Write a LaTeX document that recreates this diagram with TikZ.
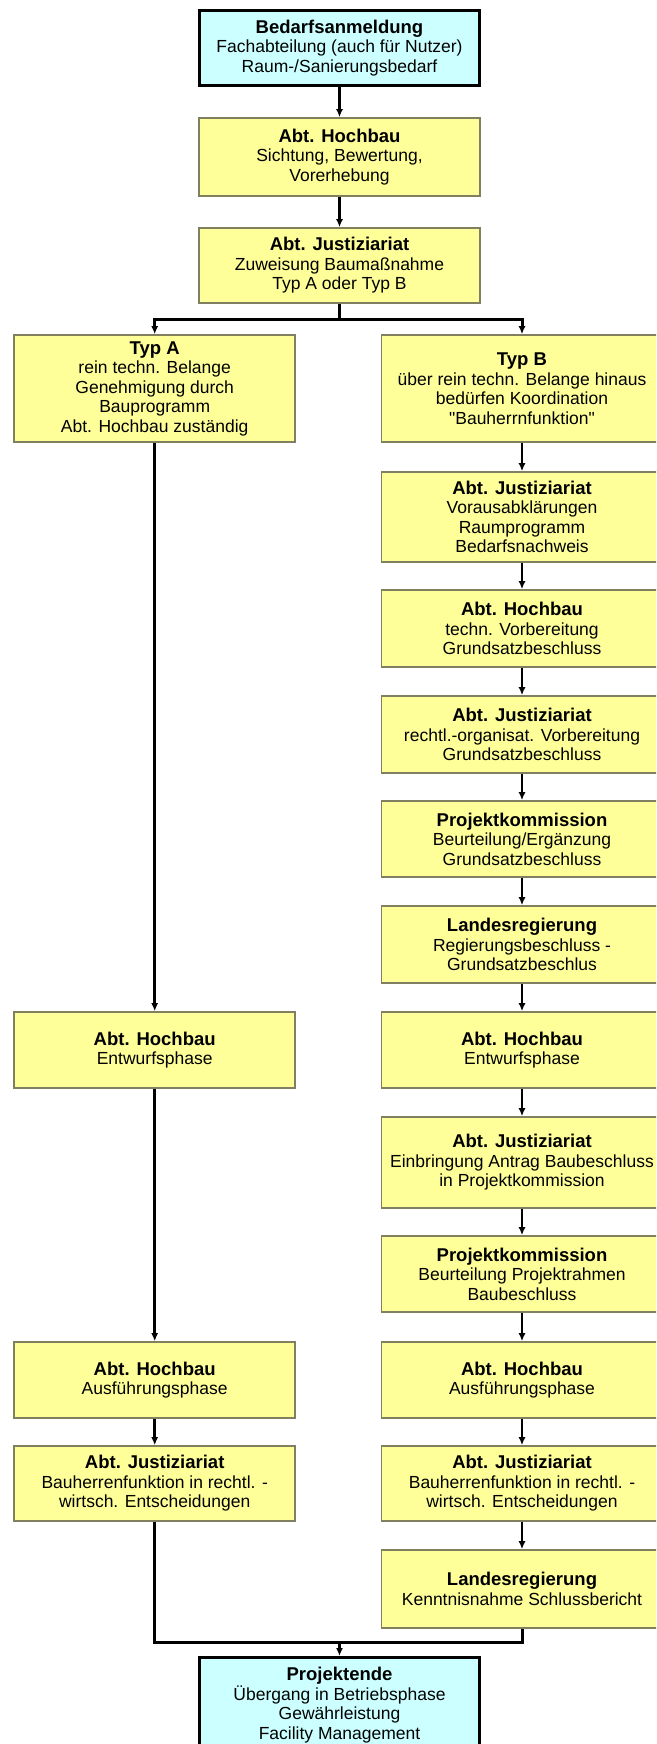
\documentclass[tikz,border=0pt]{standalone}
\usepackage{fontspec}
\setmainfont{Liberation Sans}
\usetikzlibrary{arrows.meta}
\definecolor{boxyellow}{RGB}{255,255,153}
\definecolor{boxcyan}{RGB}{204,255,255}
\definecolor{boxedge}{RGB}{128,128,96}
\newcommand{\hd}[1]{{\fontsize{18.5}{19.5}\selectfont\bfseries #1}}
\begin{document}
\begin{tikzpicture}[>={Latex[length=8pt,width=7pt]}, x=1pt, y=-1pt,
        ybox/.style={draw=boxedge, line width=1.6pt, fill=boxyellow, minimum width=281pt,
                align=center, inner sep=2pt, font=\fontsize{17.5}{19.5}\selectfont},
        cbox/.style={ybox, draw=black, line width=3pt, fill=boxcyan, minimum width=280pt},
        arr/.style={->, line width=2.2pt},
        fat/.style={line width=3pt}]
    \useasboundingbox (0,0) rectangle (656,1744);
    \clip (0,0) rectangle (656,1744);
    \node[cbox, minimum height=75] (bedarf) at (339.5,48) {\hd{Bedarfsanmeldung}\\Fachabteilung (auch für Nutzer)\\Raum-/Sanierungsbedarf};
    \node[ybox, minimum height=78] (hoch1) at (339.5,157) {\hd{Abt. Hochbau}\\Sichtung, Bewertung,\\Vorerhebung};
    \node[ybox, minimum height=75] (just1) at (339.5,265.5) {\hd{Abt. Justiziariat}\\Zuweisung Baumaßnahme\\Typ A oder Typ B};
    \node[ybox, minimum height=107] (typa) at (154.7,388.5) {\hd{Typ A}\\rein techn. Belange\\Genehmigung durch\\Bauprogramm\\Abt. Hochbau zuständig};
    \node[ybox, minimum height=107] (typb) at (522,388.5) {\hd{Typ B}\\über rein techn. Belange hinaus\\bedürfen Koordination\\\textquotedbl Bauherrnfunktion\textquotedbl};
    \node[ybox, minimum height=90] (justb1) at (522,517) {\hd{Abt. Justiziariat}\\Vorausabklärungen\\Raumprogramm\\Bedarfsnachweis};
    \node[ybox, minimum height=77] (hochb1) at (522,628.5) {\hd{Abt. Hochbau}\\techn. Vorbereitung\\Grundsatzbeschluss};
    \node[ybox, minimum height=77] (justb2) at (522,734.5) {\hd{Abt. Justiziariat}\\rechtl.-organisat. Vorbereitung\\Grundsatzbeschluss};
    \node[ybox, minimum height=76] (kommb1) at (522,839) {\hd{Projektkommission}\\Beurteilung/Ergänzung\\Grundsatzbeschluss};
    \node[ybox, minimum height=77] (landb1) at (522,944.5) {\hd{Landesregierung}\\Regierungsbeschluss -\\Grundsatzbeschlus};
    \node[ybox, minimum height=76] (entwa) at (154.7,1050) {\hd{Abt. Hochbau}\\Entwurfsphase};
    \node[ybox, minimum height=76] (entwb) at (522,1050) {\hd{Abt. Hochbau}\\Entwurfsphase};
    \node[ybox, minimum height=91] (justb3) at (522,1162.5) {\hd{Abt. Justiziariat}\\Einbringung Antrag Baubeschluss\\in Projektkommission};
    \node[ybox, minimum height=76] (kommb2) at (522,1274) {\hd{Projektkommission}\\Beurteilung Projektrahmen\\Baubeschluss};
    \node[ybox, minimum height=76] (ausfa) at (154.7,1380) {\hd{Abt. Hochbau}\\Ausführungsphase};
    \node[ybox, minimum height=76] (ausfb) at (522,1380) {\hd{Abt. Hochbau}\\Ausführungsphase};
    \node[ybox, minimum height=75] (justa) at (154.7,1483.5) {\hd{Abt. Justiziariat}\\Bauherrenfunktion in rechtl. -\\wirtsch. Entscheidungen};
    \node[ybox, minimum height=75] (justb4) at (522,1483.5) {\hd{Abt. Justiziariat}\\Bauherrenfunktion in rechtl. -\\wirtsch. Entscheidungen};
    \node[ybox, minimum height=78] (landb2) at (522,1589) {\hd{Landesregierung}\\Kenntnisnahme Schlussbericht};
    \node[cbox, minimum height=95] (ende) at (339.5,1705) {\hd{Projektende}\\Übergang in Betriebsphase\\Gewährleistung\\Facility Management};
    \coordinate (split) at (339.5,319);
    \coordinate (merge) at (339.5,1642);
    \draw[arr, line width=2.6pt] (bedarf)--(hoch1);
    \draw[arr, line width=2.6pt] (hoch1)--(just1);
    \draw[fat] (just1)--(split);
    \draw[fat, ->] (split)-|(typa);
    \draw[fat, ->] (split)-|(typb);
    \draw[fat, ->] (typa)--(entwa);
    \draw[fat, ->] (entwa)--(ausfa);
    \draw[fat, ->] (ausfa)--(justa);
    \draw[arr] (typb)--(justb1);
    \draw[arr] (justb1)--(hochb1);
    \draw[arr] (hochb1)--(justb2);
    \draw[arr] (justb2)--(kommb1);
    \draw[arr] (kommb1)--(landb1);
    \draw[arr] (landb1)--(entwb);
    \draw[arr] (entwb)--(justb3);
    \draw[arr] (justb3)--(kommb2);
    \draw[arr] (kommb2)--(ausfb);
    \draw[arr] (ausfb)--(justb4);
    \draw[arr] (justb4)--(landb2);
    \draw[fat] (justa)|-(merge);
    \draw[fat] (landb2)|-(merge);
    \draw[fat, ->] (merge)--(ende);
\end{tikzpicture}
\end{document}
